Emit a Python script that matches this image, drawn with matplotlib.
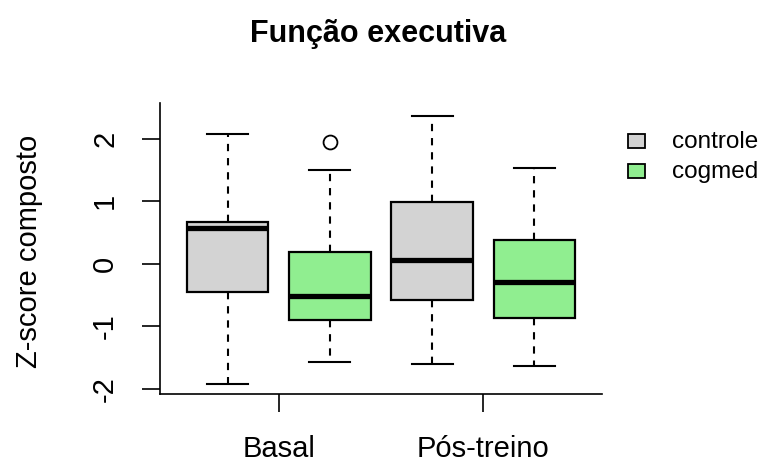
import matplotlib
matplotlib.use("Agg")
import matplotlib.pyplot as plt
from matplotlib.patches import Rectangle

plt.rcParams['font.family'] = ['Liberation Sans', 'DejaVu Sans']

# dados
grupos = ['Basal', 'Pós-treino']
series = ['controle', 'cogmed']
cores = ['#d3d3d3', '#90ee90']

mediana = {'controle': [0.58, 0.06], 'cogmed': [-0.51, -0.29]}
q1 = {'controle': [-0.45, -0.58], 'cogmed': [-0.89, -0.87]}
q3 = {'controle': [0.67, 0.99], 'cogmed': [0.19, 0.38]}
bigode_inf = {'controle': [-1.92, -1.60], 'cogmed': [-1.57, -1.63]}
bigode_sup = {'controle': [2.08, 2.37], 'cogmed': [1.50, 1.53]}
outliers = {'controle': [[], []], 'cogmed': [[1.95], []]}

yticks = [-2, -1, 0, 1, 2]

fig = plt.figure(figsize=(7.68, 4.70), dpi=100)
W, H = 768, 470
ax = fig.add_axes([160 / W, 1 - 394 / H, 442 / W, 291 / H])

stats = []
pos = []
cor_caixa = []
for g in range(len(grupos)):
    for s, nome in enumerate(series):
        stats.append(dict(med=mediana[nome][g], q1=q1[nome][g], q3=q3[nome][g],
                          whislo=bigode_inf[nome][g], whishi=bigode_sup[nome][g],
                          fliers=outliers[nome][g]))
        pos.append(2 * g + s + 1)
        cor_caixa.append(cores[s])

bp = ax.bxp(stats, positions=pos, widths=0.8, patch_artist=True, showfliers=True,
            boxprops=dict(linewidth=1.6, edgecolor='black'),
            medianprops=dict(color='black', linewidth=3.8, solid_capstyle='butt'),
            whiskerprops=dict(color='black', linewidth=1.5, linestyle=(0, (3.5, 3.3))),
            capprops=dict(color='black', linewidth=1.5),
            capwidths=0.4,
            flierprops=dict(marker='o', markersize=10, markerfacecolor='none',
                            markeredgecolor='black', markeredgewidth=1.3))
for patch, c in zip(bp['boxes'], cor_caixa):
    patch.set_facecolor(c)

ax.set_xlim(0.34, 4.66)
ax.set_ylim(-2.08, 2.57)

ax.spines['top'].set_visible(False)
ax.spines['right'].set_visible(False)
ax.spines['left'].set_linewidth(1.2)
ax.spines['bottom'].set_linewidth(1.2)

ax.set_yticks(yticks)
ax.set_yticklabels([str(v) for v in yticks])
ax.set_xticks([1.5, 3.5])
ax.set_xticklabels(grupos)
ax.tick_params(axis='both', direction='out', length=13, width=1.2,
               labelsize=21, pad=16.5, colors='black')
ax.tick_params(axis='y', labelrotation=90)
for lab in ax.get_yticklabels():
    lab.set_va('center')

ax.set_ylabel('Z-score composto', fontsize=21)
ax.yaxis.set_label_coords(-0.265, 0.49)

fig.text(378.5 / W, 1 - 42 / H, 'Função executiva', ha='center', va='baseline',
         fontsize=22, fontweight='bold')

# legenda manual
for i, (nome, c) in enumerate(zip(series, cores)):
    yb = 148 + 30 * i
    fig.add_artist(Rectangle((628 / W, 1 - yb / H), 17 / W, 14 / H, transform=fig.transFigure,
                             facecolor=c, edgecolor='black', linewidth=1.3))
    fig.text(672 / W, 1 - yb / H, nome, ha='left', va='baseline', fontsize=17.5)

fig.savefig('out.png', dpi=100)
